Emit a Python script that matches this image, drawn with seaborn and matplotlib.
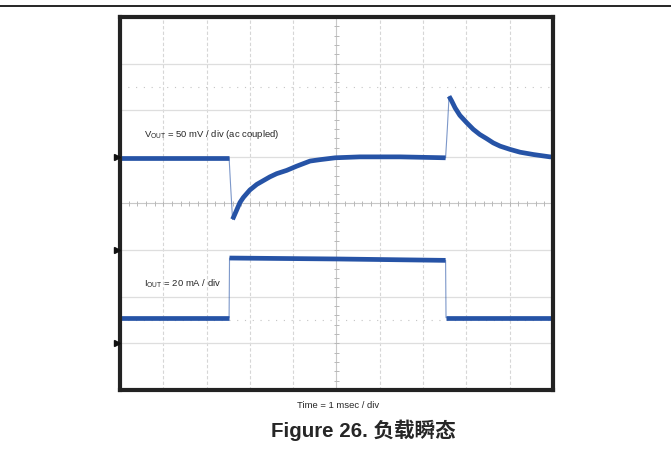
import matplotlib
matplotlib.use('Agg')
import matplotlib.pyplot as plt
import numpy as np
import pandas as pd
import seaborn as sns

vout_t = [0.0, 1.2, 2.52, 2.56, 2.60, 2.62, 2.70, 2.77, 2.85, 3.00, 3.16, 3.31, 3.46, 3.62,
          3.85, 4.08, 4.39, 4.62, 4.97, 5.54, 6.47, 7.52,
          7.56, 7.60, 7.66, 7.74, 7.85, 8.01, 8.16, 8.31, 8.47, 8.62, 8.78, 9.01, 9.24,
          9.55, 9.93, 10.0]
vout_v = [0.98, 0.98, 0.98, 0.30, -0.34, -0.30, -0.13, 0.02, 0.13, 0.29, 0.41, 0.49, 0.57, 0.64,
          0.71, 0.80, 0.91, 0.94, 0.98, 1.00, 1.00, 0.98,
          1.60, 2.30, 2.20, 2.05, 1.89, 1.73, 1.59, 1.48, 1.39, 1.30, 1.23, 1.16, 1.10,
          1.05, 1.00, 1.00]
vout_seg = [0, 0, 0, -1, 1, 1, 1, 1, 1, 1, 1, 1, 1, 1,
            1, 1, 1, 1, 1, 1, 1, 1,
            -1, 2, 2, 2, 2, 2, 2, 2, 2, 2, 2, 2, 2,
            2, 2, 2]

iout_t = [0.0, 2.52, 2.53, 5.0, 7.52, 7.53, 10.0]
iout_v = [-2.45, -2.45, -1.17, -1.19, -1.22, -2.45, -2.45]
iout_seg = [0, 0, 1, 1, 1, 2, 2]

marker_levels = [1.0, -1.0, -3.0]   # channel reference arrows on left edge
cursor_levels = [2.5, -2.5]        # faint dotted cursors

trace_color = '#2653a6'

sns.set_style('white')
plt.rcParams['font.family'] = ['Liberation Sans', 'Noto Sans CJK SC', 'DejaVu Sans']

fig = plt.figure(figsize=(6.71, 4.63), dpi=100)
ax = fig.add_axes([0.1788, 0.1577, 0.6453, 0.8056])

# grid like the scope graticule
for x in range(1, 10):
    if x == 5:
        continue
    ax.axvline(x, color='#d6d6d6', lw=0.8, ls=(0, (3, 2)), zorder=0)
for y in range(-3, 4):
    if y == 0:
        continue
    ax.axhline(y, color='#dedede', lw=0.9, zorder=0)
for y in cursor_levels:
    ax.axhline(y, color='#c4c4c4', lw=0.8, ls=(0, (1, 6)), zorder=0)
ax.axvline(5, color='#c8c8c8', lw=0.8, zorder=0)
ax.axhline(0, color='#c8c8c8', lw=0.8, zorder=0)
tx = np.arange(0.2, 10, 0.2)
ax.vlines(tx, -0.05, 0.05, color='#b8b8b8', lw=0.7, zorder=0)
ty = np.arange(-3.8, 4, 0.2)
ax.hlines(ty, 4.94, 5.06, color='#b8b8b8', lw=0.7, zorder=0)

df_v = pd.DataFrame({'t': vout_t, 'v': vout_v, 'seg': vout_seg})
df_i = pd.DataFrame({'t': iout_t, 'v': iout_v, 'seg': iout_seg})

# thin full trace (edges), then thick band on the settled parts
for d in (df_v, df_i):
    sns.lineplot(data=d, x='t', y='v', color=trace_color, lw=0.8, alpha=0.6,
                 sort=False, estimator=None, ax=ax)
    seg = d[d['seg'] >= 0]
    sns.lineplot(data=seg, x='t', y='v', units='seg', estimator=None, sort=False,
                 color=trace_color, lw=3.4, solid_capstyle='butt',
                 solid_joinstyle='round', ax=ax)

ax.plot([-0.07] * len(marker_levels), marker_levels, marker='>', ms=4,
        color='#111111', ls='none', clip_on=False, zorder=5)

ax.text(0.55, 1.48, r'V$_{\mathregular{OUT}}$ = 50 mV / div (ac coupled)',
        fontsize=6.8, va='center', ha='left')
ax.text(0.55, -1.72, r'I$_{\mathregular{OUT}}$ = 20 mA / div',
        fontsize=6.8, va='center', ha='left')

ax.set_xlim(0, 10)
ax.set_ylim(-4, 4)
ax.set_xticks([])
ax.set_yticks([])
ax.set_xlabel('')
ax.set_ylabel('')
for s in ax.spines.values():
    s.set_linewidth(3)
    s.set_color('#222222')

fig.text(338 / 671, 1 - 405 / 463, 'Time = 1 msec / div', fontsize=6.8,
         ha='center', va='center')
fig.text(363 / 671, 1 - 430 / 463, 'Figure 26. 负载瞬态', fontsize=14.8,
         fontweight='bold', ha='center', va='center')
fig.add_artist(plt.Line2D([0, 1], [1 - 6 / 463, 1 - 6 / 463], color='black', lw=1.2))

fig.savefig('out.png', dpi=100)
